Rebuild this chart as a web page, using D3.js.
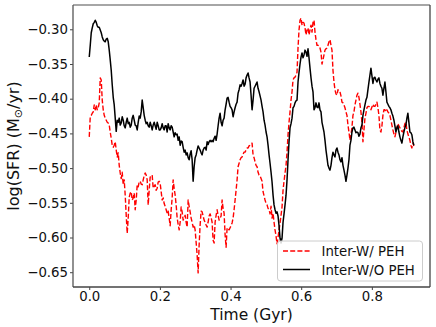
<!DOCTYPE html>
<html>
<head>
<meta charset="utf-8">
<script src="https://cdn.jsdelivr.net/npm/d3@7"></script>
<style>
  html, body { margin: 0; padding: 0; background: #fff; }
  svg { display: block; font-family: "DejaVu Sans", sans-serif; }
</style>
</head>
<body>
<svg id="chart" width="436" height="327"></svg>
<script>
// ---- data ----
const timeStart = 0.0;   // Gyr, first sample
const timeEnd = 0.919;   // Gyr, last sample (uniformly sampled snapshots)

const sfrWithPEH = [
-0.455,-0.426,-0.424,-0.421,-0.419,-0.409,-0.416,-0.409,-0.416,-0.413,
-0.406,-0.370,-0.373,-0.402,-0.416,-0.424,-0.428,-0.431,-0.434,-0.435,
-0.438,-0.448,-0.457,-0.467,-0.470,-0.467,-0.462,-0.474,-0.484,-0.478,
-0.496,-0.507,-0.515,-0.506,-0.524,-0.517,-0.539,-0.568,-0.594,-0.572,
-0.542,-0.536,-0.534,-0.546,-0.543,-0.536,-0.560,-0.546,-0.524,-0.527,
-0.520,-0.519,-0.523,-0.524,-0.517,-0.511,-0.507,-0.510,-0.517,-0.553,
-0.532,-0.513,-0.511,-0.510,-0.529,-0.526,-0.524,-0.532,-0.529,-0.520,
-0.519,-0.522,-0.534,-0.546,-0.543,-0.551,-0.555,-0.560,-0.565,-0.562,
-0.572,-0.583,-0.560,-0.543,-0.517,-0.529,-0.539,-0.553,-0.572,-0.581,
-0.589,-0.578,-0.556,-0.563,-0.575,-0.571,-0.568,-0.578,-0.585,-0.546,
-0.555,-0.563,-0.572,-0.578,-0.585,-0.582,-0.589,-0.607,-0.625,-0.651,
-0.611,-0.582,-0.562,-0.563,-0.569,-0.575,-0.578,-0.582,-0.585,-0.578,
-0.569,-0.566,-0.571,-0.578,-0.604,-0.608,-0.578,-0.568,-0.560,-0.568,
-0.575,-0.572,-0.569,-0.546,-0.558,-0.565,-0.596,-0.614,-0.586,-0.588,
-0.589,-0.586,-0.583,-0.579,-0.572,-0.560,-0.546,-0.532,-0.517,-0.498,
-0.493,-0.488,-0.485,-0.484,-0.480,-0.477,-0.477,-0.474,-0.471,-0.471,
-0.468,-0.467,-0.465,-0.464,-0.481,-0.485,-0.491,-0.496,-0.498,-0.506,
-0.510,-0.511,-0.515,-0.519,-0.534,-0.540,-0.546,-0.551,-0.553,-0.558,
-0.560,-0.566,-0.555,-0.572,-0.565,-0.578,-0.589,-0.598,-0.609,-0.600,
-0.589,-0.579,-0.568,-0.556,-0.532,-0.519,-0.507,-0.496,-0.477,-0.452,
-0.434,-0.419,-0.402,-0.390,-0.373,-0.370,-0.369,-0.366,-0.362,-0.327,
-0.301,-0.287,-0.284,-0.294,-0.290,-0.291,-0.298,-0.308,-0.301,-0.298,
-0.308,-0.301,-0.294,-0.304,-0.290,-0.287,-0.304,-0.315,-0.323,-0.323,
-0.324,-0.327,-0.333,-0.350,-0.344,-0.337,-0.330,-0.328,-0.327,-0.323,
-0.318,-0.315,-0.323,-0.330,-0.359,-0.376,-0.387,-0.393,-0.395,-0.387,
-0.390,-0.390,-0.396,-0.405,-0.406,-0.409,-0.413,-0.419,-0.424,-0.438,
-0.448,-0.460,-0.452,-0.441,-0.424,-0.419,-0.409,-0.402,-0.395,-0.392,
-0.398,-0.408,-0.419,-0.434,-0.462,-0.445,-0.428,-0.421,-0.413,-0.411,
-0.411,-0.413,-0.416,-0.412,-0.408,-0.411,-0.411,-0.408,-0.405,-0.413,
-0.424,-0.445,-0.448,-0.439,-0.424,-0.416,-0.416,-0.419,-0.416,-0.419,
-0.421,-0.424,-0.431,-0.438,-0.445,-0.451,-0.455,-0.449,-0.441,-0.436,
-0.439,-0.442,-0.445,-0.447,-0.448,-0.442,-0.436,-0.434,-0.445,-0.451,
-0.455,-0.460,-0.467,-0.471,-0.464,-0.468
];

const sfrWithoutPEH = [
-0.340,-0.323,-0.305,-0.298,-0.292,-0.290,-0.287,-0.290,-0.295,-0.297,
-0.297,-0.301,-0.305,-0.311,-0.315,-0.317,-0.318,-0.314,-0.313,-0.318,
-0.330,-0.344,-0.359,-0.380,-0.398,-0.409,-0.428,-0.447,-0.431,-0.434,
-0.428,-0.438,-0.435,-0.426,-0.431,-0.439,-0.442,-0.434,-0.428,-0.436,
-0.434,-0.441,-0.438,-0.428,-0.424,-0.431,-0.438,-0.439,-0.445,-0.434,
-0.425,-0.428,-0.419,-0.402,-0.413,-0.424,-0.431,-0.436,-0.434,-0.439,
-0.441,-0.434,-0.439,-0.445,-0.438,-0.434,-0.439,-0.444,-0.434,-0.439,
-0.445,-0.445,-0.442,-0.436,-0.442,-0.445,-0.439,-0.439,-0.448,-0.436,
-0.442,-0.445,-0.439,-0.441,-0.448,-0.455,-0.449,-0.452,-0.451,-0.460,
-0.455,-0.467,-0.461,-0.462,-0.470,-0.477,-0.474,-0.481,-0.478,-0.485,
-0.488,-0.480,-0.475,-0.488,-0.519,-0.498,-0.485,-0.481,-0.474,-0.468,
-0.471,-0.474,-0.478,-0.481,-0.474,-0.471,-0.470,-0.474,-0.462,-0.466,
-0.462,-0.460,-0.462,-0.460,-0.462,-0.457,-0.454,-0.460,-0.451,-0.439,
-0.428,-0.421,-0.434,-0.439,-0.431,-0.428,-0.416,-0.408,-0.399,-0.398,
-0.405,-0.411,-0.413,-0.416,-0.426,-0.419,-0.413,-0.408,-0.405,-0.392,
-0.387,-0.380,-0.382,-0.378,-0.373,-0.382,-0.379,-0.370,-0.366,-0.363,
-0.370,-0.376,-0.395,-0.416,-0.402,-0.385,-0.382,-0.379,-0.376,-0.385,
-0.390,-0.396,-0.402,-0.411,-0.419,-0.431,-0.438,-0.448,-0.455,-0.467,
-0.481,-0.493,-0.506,-0.520,-0.539,-0.553,-0.560,-0.565,-0.563,-0.569,
-0.583,-0.601,-0.608,-0.601,-0.578,-0.566,-0.553,-0.539,-0.517,-0.488,
-0.462,-0.442,-0.436,-0.428,-0.413,-0.411,-0.406,-0.403,-0.402,-0.376,
-0.362,-0.350,-0.340,-0.334,-0.341,-0.337,-0.330,-0.333,-0.339,-0.328,
-0.341,-0.356,-0.370,-0.382,-0.390,-0.416,-0.413,-0.406,-0.412,-0.413,
-0.406,-0.416,-0.419,-0.434,-0.441,-0.448,-0.460,-0.474,-0.485,-0.496,
-0.500,-0.503,-0.496,-0.485,-0.477,-0.481,-0.484,-0.474,-0.471,-0.477,
-0.481,-0.488,-0.491,-0.485,-0.496,-0.503,-0.510,-0.519,-0.510,-0.500,
-0.488,-0.467,-0.460,-0.448,-0.442,-0.441,-0.445,-0.449,-0.448,-0.449,
-0.454,-0.451,-0.442,-0.438,-0.424,-0.416,-0.409,-0.402,-0.398,-0.387,
-0.376,-0.366,-0.356,-0.367,-0.378,-0.370,-0.369,-0.373,-0.376,-0.372,
-0.370,-0.378,-0.382,-0.385,-0.395,-0.385,-0.376,-0.390,-0.405,-0.408,
-0.411,-0.413,-0.416,-0.421,-0.425,-0.431,-0.439,-0.448,-0.442,-0.439,
-0.448,-0.455,-0.460,-0.464,-0.455,-0.448,-0.442,-0.438,-0.428,-0.421,
-0.434,-0.448,-0.449,-0.452,-0.462,-0.467
];

const seriesNames = ["Inter-W/ PEH", "Inter-W/O PEH"];
const xTickValues = [0.0, 0.2, 0.4, 0.6, 0.8];
const yTickValues = [-0.65, -0.60, -0.55, -0.50, -0.45, -0.40, -0.35, -0.30];
const xLabel = "Time (Gyr)";

// ---- layout ----
const plot = { left: 73, right: 430, top: 5, bottom: 287 };
const svg = d3.select("#chart");

const x = d3.scaleLinear().domain([-0.046, 0.9646]).range([plot.left, plot.right]);
const y = d3.scaleLinear().domain([-0.6713, -0.265]).range([plot.bottom, plot.top]);

function toPoints(values) {
  const n = values.length;
  return values.map((v, i) => [timeStart + (timeEnd - timeStart) * i / (n - 1), v]);
}

const line = d3.line().x(d => x(d[0])).y(d => y(d[1]));

svg.append("clipPath").attr("id", "clip")
  .append("rect").attr("x", plot.left).attr("y", plot.top)
  .attr("width", plot.right - plot.left).attr("height", plot.bottom - plot.top);

const g = svg.append("g").attr("clip-path", "url(#clip)");
g.append("path").datum(toPoints(sfrWithPEH))
  .attr("d", line).attr("fill", "none").attr("stroke", "#ff0000")
  .attr("stroke-width", 1.4).attr("stroke-dasharray", "5,2.2")
  .attr("stroke-linejoin", "round");
g.append("path").datum(toPoints(sfrWithoutPEH))
  .attr("d", line).attr("fill", "none").attr("stroke", "#000")
  .attr("stroke-width", 1.5).attr("stroke-linejoin", "round");

// ---- axes ----
const xAxis = d3.axisBottom(x).tickValues(xTickValues).tickFormat(d3.format(".1f")).tickSize(3).tickPadding(1.5);
const yAxis = d3.axisLeft(y).tickValues(yTickValues).tickFormat(d3.format(".2f")).tickSize(3).tickPadding(2);

const gx = svg.append("g").attr("transform", `translate(0,${plot.bottom})`).call(xAxis);
const gy = svg.append("g").attr("transform", `translate(${plot.left},0)`).call(yAxis);
[gx, gy].forEach(a => {
  a.select(".domain").remove();
  a.selectAll(".tick line").attr("stroke", "#444").attr("stroke-width", 1);
  a.selectAll(".tick text").attr("fill", "#111").style("font-size", "13.3px")
    .style("font-family", "'DejaVu Sans', sans-serif");
});

// spines
svg.append("line").attr("x1", plot.left).attr("x2", plot.right).attr("y1", plot.top).attr("y2", plot.top)
  .attr("stroke", "#888").attr("stroke-width", 1.3);
svg.append("line").attr("x1", plot.right).attr("x2", plot.right).attr("y1", plot.top).attr("y2", plot.bottom)
  .attr("stroke", "#444").attr("stroke-width", 1.3);
svg.append("line").attr("x1", plot.left).attr("x2", plot.left).attr("y1", plot.top).attr("y2", plot.bottom)
  .attr("stroke", "#555").attr("stroke-width", 1.3);
svg.append("line").attr("x1", plot.left).attr("x2", plot.right).attr("y1", plot.bottom).attr("y2", plot.bottom)
  .attr("stroke", "#444").attr("stroke-width", 1.3);

// axis labels
svg.append("text").attr("x", (plot.left + plot.right) / 2).attr("y", 319.5)
  .attr("text-anchor", "middle").style("font-size", "15.5px").attr("fill", "#111").text(xLabel);

const yl = svg.append("text")
  .attr("transform", `translate(19,${(plot.top + plot.bottom) / 2}) rotate(-90)`)
  .attr("text-anchor", "middle").style("font-size", "16px").attr("fill", "#111");
yl.append("tspan").text("log(SFR) (M");
yl.append("tspan").text("\u2299").style("font-size", "11px").attr("dy", 3);
yl.append("tspan").text("/yr)").attr("dy", -3);

// ---- legend ----
const lg = svg.append("g");
lg.append("rect").attr("x", 277.5).attr("y", 241).attr("width", 145).attr("height", 40)
  .attr("rx", 3).attr("fill", "#fff").attr("fill-opacity", 0.85)
  .attr("stroke", "#ccc").attr("stroke-width", 1);
const legendItems = [
  { name: seriesNames[0], color: "#ff0000", dash: "5,2.2", yy: 251 },
  { name: seriesNames[1], color: "#000", dash: null, yy: 269.5 }
];
legendItems.forEach(it => {
  lg.append("line").attr("x1", 283).attr("x2", 310).attr("y1", it.yy).attr("y2", it.yy)
    .attr("stroke", it.color).attr("stroke-width", 1.5)
    .attr("stroke-dasharray", it.dash);
  lg.append("text").attr("x", 321.5).attr("y", it.yy + 5.2).style("font-size", "13.3px")
    .attr("fill", "#111").text(it.name);
});
</script>
</body>
</html>
